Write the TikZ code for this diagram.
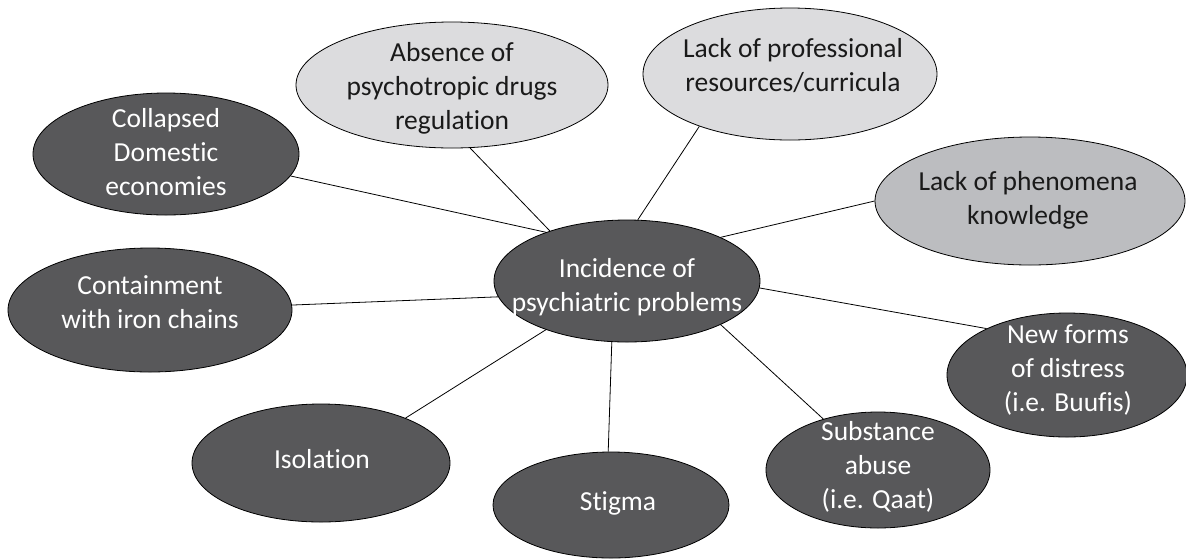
\documentclass[tikz,border=0pt]{standalone}
\usepackage{fontspec}
\setmainfont{Carlito}[Ligatures={NoCommon}]
\usetikzlibrary{shapes.geometric}
\definecolor{darkfill}{HTML}{58585A}
\definecolor{lightfill}{HTML}{DCDCDE}
\definecolor{midfill}{HTML}{BCBDC0}
\definecolor{darktext}{HTML}{1A1A1A}
\tikzset{
  bubble/.style={ellipse, draw=black, line width=0.8pt, inner sep=0pt},
  darkbubble/.style={bubble, fill=darkfill},
  lightbubble/.style={bubble, fill=lightfill},
  midbubble/.style={bubble, fill=midfill},
  whitelbl/.style={text=white, align=center, inner sep=0pt, font=\fontsize{27.5}{34}\selectfont},
  blacklbl/.style={text=darktext, align=center, inner sep=0pt, font=\fontsize{27.5}{34}\selectfont},
  link/.style={draw=black, line width=0.8pt}
}
\begin{document}
\begin{tikzpicture}[x=1pt,y=-1pt]
\useasboundingbox (0,0) rectangle (1186,558);
\node[darkbubble, minimum width=266pt, minimum height=122pt] (c) at (627,281) {};
\node[lightbubble, minimum width=312pt, minimum height=126pt] (abs) at (452,85) {};
\node[lightbubble, minimum width=294pt, minimum height=132pt] (prof) at (790,74) {};
\node[midbubble, minimum width=310pt, minimum height=128pt] (phen) at (1030,201) {};
\node[darkbubble, minimum width=266pt, minimum height=122pt] (coll) at (166,154) {};
\node[darkbubble, minimum width=284pt, minimum height=124pt] (cont) at (150,310) {};
\node[darkbubble, minimum width=258pt, minimum height=118pt] (iso) at (321,463) {};
\node[darkbubble, minimum width=236pt, minimum height=106pt] (stig) at (611,505) {};
\node[darkbubble, minimum width=224pt, minimum height=116pt] (sub) at (878,470) {};
\node[darkbubble, minimum width=240pt, minimum height=124pt] (new) at (1067,375) {};

\draw[link] (c.149) -- (coll.350);
\draw[link] (c.147) -- (abs.286);
\draw[link] (c.80) -- (prof.210);
\draw[link] (c.25) -- (phen.180);
\draw[link] (c.187) -- (cont.2);
\draw[link] (c.357) -- (new.150);
\draw[link] (c.335) -- (sub.137);
\draw[link] (c.256) -- (stig.93);
\draw[link] (c.211) -- (iso.28);

\node[whitelbl] (ct) at (627,287) {Incidence of\\psychiatric problems};
\node[blacklbl] (abst) at (452,88) {Absence of\\psychotropic drugs\\regulation};
\node[blacklbl] (proft) at (793,66) {Lack of professional\\resources/curricula};
\node[blacklbl] (phent) at (1028,200) {Lack of phenomena\\knowledge};
\node[whitelbl] (collt) at (166,152) {Collapsed\\Domestic\\economies};
\node[whitelbl] (contt) at (150,302) {Containment\\with iron chains};
\node[whitelbl] (isot) at (322,459) {Isolation};
\node[whitelbl] (stigt) at (618,503) {Stigma};
\node[whitelbl] (subt) at (878,467) {Substance\\abuse\\(i.e. Qaat)};
\node[whitelbl] (newt) at (1068,370) {New forms\\of distress\\(i.e. Buufis)};
\end{tikzpicture}
\end{document}
